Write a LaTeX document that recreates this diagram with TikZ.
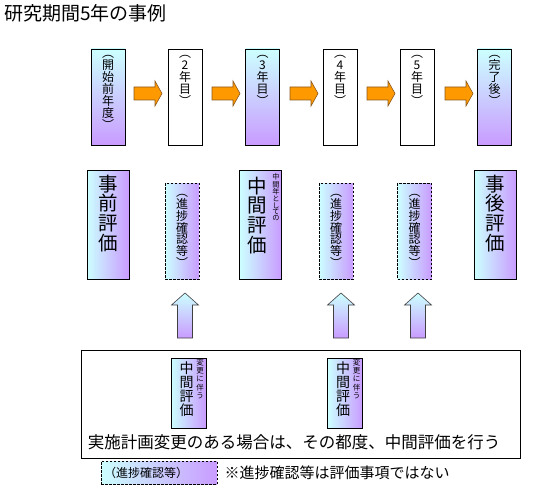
\documentclass[tikz,border=0pt]{standalone}
\usepackage{fontspec}
\setmainfont{Noto Sans CJK JP}
\usetikzlibrary{positioning}
\definecolor{kcyan}{HTML}{CCFFFF}
\definecolor{kpurple}{HTML}{C99BFF}
\definecolor{korange}{HTML}{FF9900}
\definecolor{kbrown}{HTML}{8C5A1E}
\definecolor{kgray}{HTML}{404040}
\tikzset{
  yearbox/.style={draw=black, line width=0.8pt, fill=white, minimum width=34pt,
    minimum height=96pt, inner sep=0pt},
  yearshade/.style={yearbox, top color=kcyan, bottom color=kpurple},
  evalbox/.style={draw=black, line width=0.8pt, left color=kcyan, right color=kpurple,
    minimum width=42pt, minimum height=109pt, inner sep=0pt},
  evalsmall/.style={evalbox, minimum width=35pt, minimum height=70pt},
  checkbox/.style={draw=black, line width=0.6pt, dash pattern=on 2.5pt off 1.5pt,
    left color=kcyan, right color=kpurple, minimum width=34pt, minimum height=96pt,
    inner sep=0pt, align=center, font=\fontsize{12}{11.8}\selectfont},
  tate/.style={align=center, inner sep=0pt, font=\fontsize{12}{12}\selectfont},
  tatebig/.style={align=center, inner sep=0pt, font=\fontsize{19.5}{19.8}\selectfont},
  tatemid/.style={align=center, inner sep=0pt, font=\fontsize{14}{14}\selectfont},
  tatetiny/.style={align=center, inner sep=0pt, font=\fontsize{7.2}{6.1}\selectfont},
  tatesmall/.style={align=center, inner sep=0pt, font=\fontsize{7.5}{8.4}\selectfont},
  pusharrow/.style={draw=kbrown, line width=0.6pt, fill=korange},
  uparrow/.style={draw=kgray, line width=0.6pt, top color=kcyan, bottom color=kpurple},
}
% block arrows, drawn from the upper left corner of the shaft / the lower left corner
\newcommand{\rightblock}{-- ++(21,0) -- ++(0,-6) -- ++(7,12.5) -- ++(-7,12.5) -- ++(0,-6) -- ++(-21,0) -- cycle}
\newcommand{\upblock}{-- ++(0,-33) -- ++(-6,0) -- ++(13.5,-12) -- ++(13.5,12) -- ++(-6,0) -- ++(0,33) -- cycle}

\begin{document}
\begin{tikzpicture}[x=1pt, y=-1pt]
\useasboundingbox[fill=white] (0,0) rectangle (548,500);

\node[anchor=north west, inner sep=0pt, font=\fontsize{19}{19}\selectfont] (title) at (4,4) {研究期間5年の事例};

% years
\node[yearshade] (y0) at (108,97) {};
\node[yearbox] (y2) at (185,97) {};
\node[yearshade] (y3) at (262.5,97) {};
\node[yearbox] (y4) at (340,97) {};
\node[yearbox] (y5) at (417,97) {};
\node[yearshade] (y6) at (494.5,97) {};

\node[tate, below=6pt of y0.north] (t0) {︵\\開\\始\\前\\年\\度\\︶};
\node[tate, below=6pt of y2.north] (t2) {︵\\2\\年\\目\\︶};
\node[tate, below=6pt of y3.north] (t3) {︵\\3\\年\\目\\︶};
\node[tate, below=6pt of y4.north] (t4) {︵\\4\\年\\目\\︶};
\node[tate, below=6pt of y5.north] (t5) {︵\\5\\年\\目\\︶};
\node[tate, below=6pt of y6.north] (t6) {︵\\完\\了\\後\\︶};

\draw[pusharrow] (134,87) \rightblock;
\draw[pusharrow] (212,87) \rightblock;
\draw[pusharrow] (290,87) \rightblock;
\draw[pusharrow] (367,87) \rightblock;
\draw[pusharrow] (445,87) \rightblock;

% evaluations
\node[evalbox] (e0) at (108,224.5) {};
\node[checkbox] (c2) at (182,231) {︵\\進\\捗\\確\\認\\等\\︶};
\node[evalbox] (e3) at (260.5,224.5) {};
\node[checkbox] (c4) at (336,231) {︵\\進\\捗\\確\\認\\等\\︶};
\node[checkbox] (c5) at (414.5,231) {︵\\進\\捗\\確\\認\\等\\︶};
\node[evalbox] (e6) at (495.5,224.5) {};

\node[tatebig, below=5pt of e0.north] {事\\前\\評\\価};
\node[tatebig, below=7pt of e3.north, xshift=-3pt] {中\\間\\評\\価};
\node[tatetiny, below=4pt of e3.north, xshift=15.5pt] {中\\間\\年\\と\\し\\て\\の};
\node[tatebig, below=5pt of e6.north] {事\\後\\評\\価};

\draw[uparrow] (177.5,338) \upblock;
\draw[uparrow] (333.5,338) \upblock;
\draw[uparrow] (410.5,338) \upblock;

% changes of the plan
\node[draw=black, line width=0.8pt, minimum width=439pt, minimum height=108pt] (plan) at (300.5,404) {};
\node[evalsmall] (m1) at (188.5,393) {};
\node[evalsmall] (m2) at (345,393) {};
\node[tatemid, below=4pt of m1.north, xshift=-2pt] {中\\間\\評\\価};
\node[tatesmall, below=1pt of m1.north, xshift=11.5pt] {変\\更\\に\\伴\\う};
\node[tatemid, below=4pt of m2.north, xshift=-2pt] {中\\間\\評\\価};
\node[tatesmall, below=1pt of m2.north, xshift=11.5pt] {変\\更\\に\\伴\\う};
\node[font=\fontsize{16.5}{16.5}\selectfont, inner sep=0pt] (note) at (294,442) {実施計画変更のある場合は、その都度、中間評価を行う};

% legend
\node[checkbox, minimum width=116pt, minimum height=23pt, text width=110pt,
  inner xsep=3pt, align=left] (leg) at (159,472.5) {（進捗確認等）};
\node[font=\fontsize{15}{15}\selectfont, inner sep=0pt, right=7pt of leg] (legnote) {※進捗確認等は評価事項ではない};
\end{tikzpicture}
\end{document}
